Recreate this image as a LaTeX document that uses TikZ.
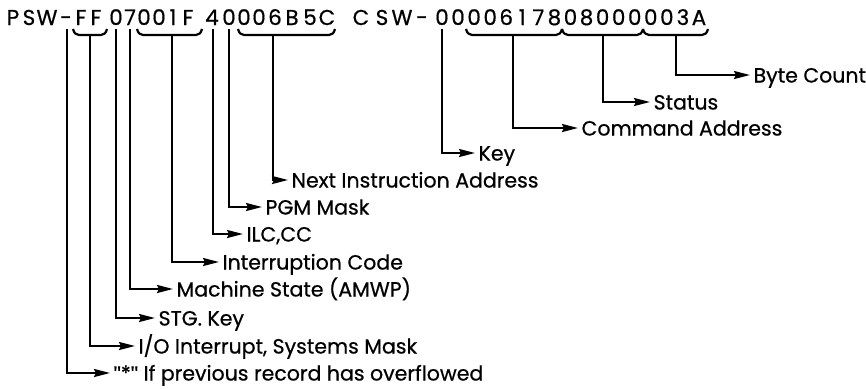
\documentclass[tikz,border=0pt]{standalone}
\usepackage{fontspec}
\setmainfont{Poppins}[FakeBold=0.6]
\newfontfamily\quotefont{Liberation Sans}[FakeBold=0.6]
\usetikzlibrary{arrows.meta}
\begin{document}
\begin{tikzpicture}[x=1pt,y=-1pt,
  line width=2.2pt,
  ch/.style={inner sep=0pt,text height=15pt,text depth=0pt,anchor=center,
    font=\fontsize{21.5}{21.5}\selectfont},
  lab/.style={inner xsep=2.5pt,inner ysep=0pt,text height=15pt,text depth=0pt,
    anchor=west,font=\fontsize{20.5}{20.5}\selectfont},
  arr/.style={-{Stealth[length=16pt,width=8pt,inset=2pt]}},
  brace/.style={line join=round}]
\useasboundingbox (0,0) rectangle (866,388);

% the two status words, one character at a time
\foreach \c/\x [count=\i] in {P/13,S/29,W/47,-/66,F/81,F/96,0/116,7/130,0/144,0/159,
  1/173,F/188,4/212,0/229,0/244,0/259,6/275,B/292,5/310,C/327}
  \node[ch] (p\i) at (\x,17.5) {\c};
\foreach \c/\x [count=\i] in {C/361,S/382,W/402,-/422}
  \node[ch] (c\i) at (\x,17.5) {\c};
\foreach \c [count=\i from 0] in {0,0,0,0,6,1,7,8,0,8,0,0,0,0,0,3,A}
  \node[ch] (d\i) at (442+16.06*\i,17.5) {\c};

% braces under the grouped fields
\foreach \a/\b in {73/107,137/202,238/335,466/562,562/643,643/708}
  \draw[brace] (\a,29) .. controls (\a+1,33) and (\a+3,35) .. (\a+6,35)
    -- (\b-6,35) .. controls (\b-3,35) and (\b-1,33) .. (\b,29);

% starting points of the leader lines
\coordinate (sStar) at (67,29);
\coordinate (sIO)   at (90,35);
\coordinate (sKey)  at (116,29);
\coordinate (sMs)   at (130,29);
\coordinate (sInt)  at (172,35);
\coordinate (sIlc)  at (213,29);
\coordinate (sPgm)  at (229,29);
\coordinate (sNia)  at (273,35);
\coordinate (sCk)   at (442,29);
\coordinate (sCa)   at (513,35);
\coordinate (sSt)   at (603,35);
\coordinate (sBc)   at (676,35);

% field descriptions
\node[lab] (lStar) at (110,373) {{\quotefont"}*{\quotefont"} If previous record has overflowed};
\node[lab] (lIO)   at (135,346) {I/O Interrupt, Systems Mask};
\node[lab] (lKey)  at (155,318) {STG. Key};
\node[lab] (lMs)   at (173,289) {Machine State (AMWP)};
\node[lab] (lInt)  at (219,262) {Interruption Code};
\node[lab] (lIlc)  at (243,234) {ILC,CC};
\node[lab] (lPgm)  at (262,207) {PGM Mask};
\node[lab] (lNia)  at (288,180) {Next Instruction Address};
\node[lab] (lCk)   at (475,153) {Key};
\node[lab] (lCa)   at (578,128) {Command Address};
\node[lab] (lSt)   at (650,102) {Status};
\node[lab] (lBc)   at (750,75)  {Byte Count};

% leaders
\foreach \s/\l in {sStar/lStar,sIO/lIO,sKey/lKey,sMs/lMs,sInt/lInt,sIlc/lIlc,
  sPgm/lPgm,sNia/lNia,sCk/lCk,sCa/lCa,sSt/lSt,sBc/lBc}
  \draw[arr] (\s) |- (\l.west);
\end{tikzpicture}
\end{document}
